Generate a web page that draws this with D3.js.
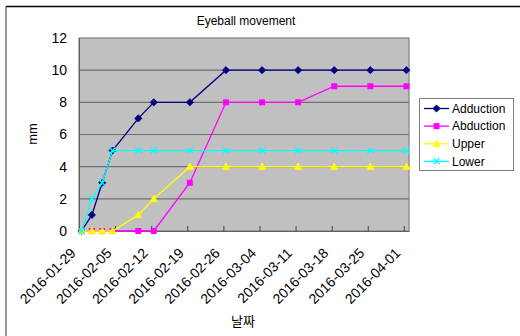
<!DOCTYPE html>
<html><head><meta charset="utf-8">
<script src="https://cdn.jsdelivr.net/npm/d3@7"></script>
<style>
html,body{margin:0;padding:0;background:#fff;}
svg{display:block;font-family:Arial,"Liberation Sans",sans-serif;}
</style></head>
<body><svg id="c" width="520" height="336"></svg>
<script>
const dates = ["2016-01-29","2016-01-31","2016-02-02","2016-02-04","2016-02-09","2016-02-12","2016-02-19","2016-02-26","2016-03-04","2016-03-11","2016-03-18","2016-03-25","2016-04-01"];
const adduction = [0,1,3,5,7,8,8,10,10,10,10,10,10];
const abduction = [0,0,0,0,0,0,3,8,8,8,9,9,9];
const upper     = [0,0,0,0,1,2,4,4,4,4,4,4,4];
const lower     = [0,2,3,5,5,5,5,5,5,5,5,5,5];
const seriesNames = ["Adduction","Abduction","Upper","Lower"];
const xTickLabels = ["2016-01-29","2016-02-05","2016-02-12","2016-02-19","2016-02-26","2016-03-04","2016-03-11","2016-03-18","2016-03-25","2016-04-01"];
const yTicks = [0,2,4,6,8,10,12];
const title = "Eyeball movement";
const xTitle = "날짜";
const yTitle = "mm";

const parse = d3.utcParse("%Y-%m-%d");
const svg = d3.select("#c");
const L = 79, R = 409, T = 38, B = 231;

const x = d3.scaleUtc().domain([parse("2016-01-29"), parse("2016-04-02")]).range([L, R]);
const y = d3.scaleLinear().domain([0, 12]).range([B, T]);
const mid = d => d3.utcHour.offset(parse(d), 12);

// outer frame (cropped chart area)
svg.append("line").attr("x1",6).attr("x2",520).attr("y1",6.5).attr("y2",6.5).attr("stroke","#000").attr("stroke-width",1.5);
svg.append("line").attr("x1",6).attr("x2",6).attr("y1",6).attr("y2",336).attr("stroke","#555").attr("stroke-width",1.2);

// plot area
svg.append("rect").attr("x",L).attr("y",T).attr("width",R-L).attr("height",B-T).attr("fill","#c0c0c0").attr("stroke","#808080").attr("stroke-width",1.2);

// gridlines
svg.append("g").selectAll("line").data(yTicks.filter(v=>v>0 && v<12)).join("line")
  .attr("x1",L).attr("x2",R).attr("y1",d=>y(d)).attr("y2",d=>y(d))
  .attr("stroke","#707070").attr("stroke-width",1.2);

// y axis
const yAx = svg.append("g").attr("transform",`translate(${L},0)`)
  .call(d3.axisLeft(y).tickValues(yTicks).tickSize(0).tickPadding(12));
yAx.select(".domain").attr("stroke","#606060");
yAx.selectAll("text").attr("font-size",14).attr("fill","#000").attr("font-family","Arial,'Liberation Sans',sans-serif");

// x axis
const xAx = svg.append("g").attr("transform",`translate(0,${B})`)
  .call(d3.axisBottom(x).tickValues(xTickLabels.map(parse)).tickSizeInner(-5).tickSizeOuter(0).tickFormat(d3.utcFormat("%Y-%m-%d")));
xAx.select(".domain").attr("stroke","#606060").attr("stroke-width",1.2);
xAx.selectAll(".tick line").attr("stroke","#404040");
xAx.selectAll("text")
  .attr("font-size",14).attr("fill","#000").attr("font-family","Arial,'Liberation Sans',sans-serif")
  .attr("text-anchor","end").attr("dy",0).attr("y",0)
  .attr("transform","translate(-3,23) rotate(-45)");

// series
const colors = ["#000080","#ff00ff","#ffff00","#00ffff"];
const values = [adduction, abduction, upper, lower];
const markers = [
  g => g.append("path").attr("d","M0,-3.6L3.6,0L0,3.6L-3.6,0Z").attr("fill","#000080").attr("stroke","#000080").attr("stroke-width",0.8),
  g => g.append("rect").attr("x",-3).attr("y",-3).attr("width",6).attr("height",6).attr("fill","#ff00ff"),
  g => g.append("path").attr("d","M0,-3.8L3.6,2.8L-3.6,2.8Z").attr("fill","#ffff00").attr("stroke","#ffff00").attr("stroke-width",0.6),
  g => { g.append("path").attr("d","M-3,-3L3,3M-3,3L3,-3").attr("stroke","#00ffff").attr("stroke-width",1.3).attr("fill","none"); }
];
const line = d3.line().x(d=>x(mid(d.date))).y(d=>y(d.v));
values.forEach((vals, i) => {
  const data = dates.map((d,j)=>({date:d, v:vals[j]}));
  const g = svg.append("g");
  g.append("path").datum(data).attr("d",line).attr("fill","none").attr("stroke",colors[i]).attr("stroke-width",1.3);
  data.forEach(d => {
    const mg = g.append("g").attr("transform",`translate(${x(mid(d.date))},${y(d.v)})`);
    markers[i](mg);
  });
});

// title
svg.append("text").attr("x",246).attr("y",25).attr("text-anchor","middle").attr("font-size",12).text(title);
// axis titles
svg.append("text").attr("x",243).attr("y",326).attr("text-anchor","middle").attr("font-size",13)
  .attr("font-family","'Noto Sans CJK KR',sans-serif").text(xTitle);
svg.append("text").attr("transform","translate(37,134) rotate(-90)").attr("text-anchor","middle").attr("font-size",13).text(yTitle);

// legend
const lg = svg.append("g");
lg.append("rect").attr("x",419.5).attr("y",98.5).attr("width",94).attr("height",72).attr("fill","#fff").attr("stroke","#808080");
seriesNames.forEach((n,i) => {
  const ry = 108.5 + i*17.6;
  lg.append("line").attr("x1",424).attr("x2",449).attr("y1",ry).attr("y2",ry).attr("stroke",colors[i]).attr("stroke-width",1.3);
  const mg = lg.append("g").attr("transform",`translate(436.5,${ry})`);
  markers[i](mg);
  lg.append("text").attr("x",452).attr("y",ry+4.3).attr("font-size",12).text(n);
});
</script></body></html>
